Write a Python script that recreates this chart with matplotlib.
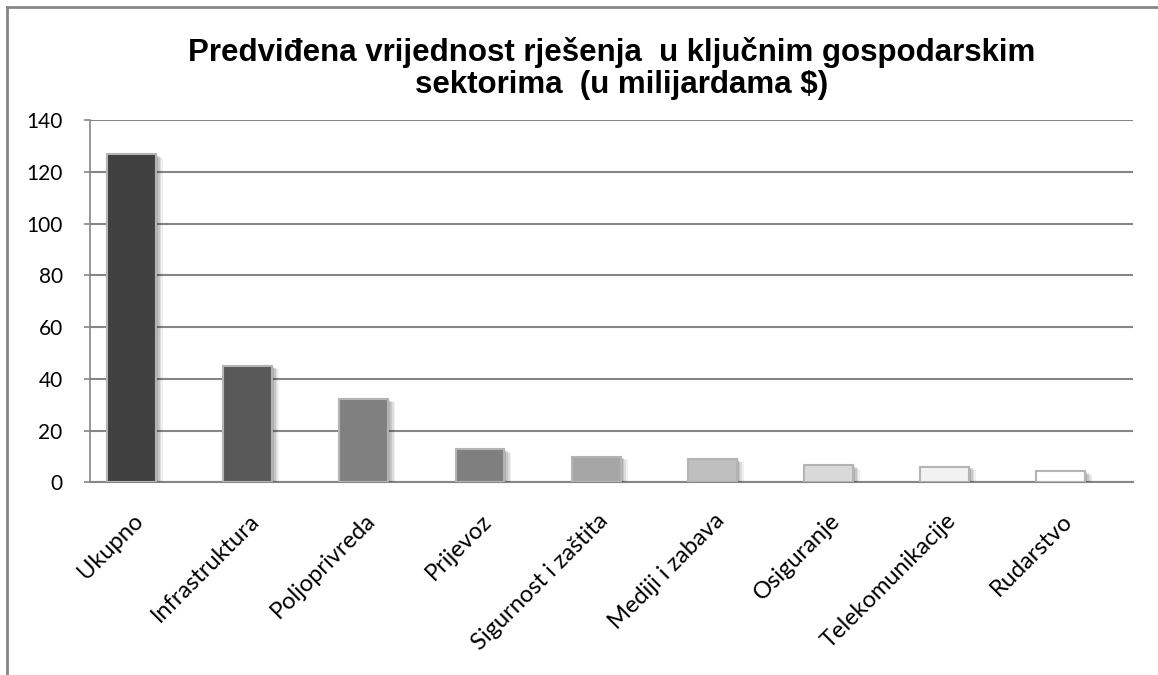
import matplotlib
matplotlib.use("Agg")
import matplotlib.pyplot as plt
import matplotlib.patheffects as pe
from matplotlib.lines import Line2D
import matplotlib.transforms as mtrans

categories = ["Ukupno", "Infrastruktura", "Poljoprivreda", "Prijevoz",
              "Sigurnost i zaštita", "Mediji i zabava", "Osiguranje",
              "Telekomunikacije", "Rudarstvo"]
values = [126.7, 44.9, 32.1, 12.7, 9.9, 8.9, 6.5, 6.0, 4.2]
bar_colors = ["#404040", "#595959", "#808080", "#7f7f7f", "#a6a6a6",
              "#bfbfbf", "#d9d9d9", "#f2f2f2", "#ffffff"]
yticks = [0, 20, 40, 60, 80, 100, 120, 140]
title_lines = ["Predviđena vrijednost rješenja  u ključnim gospodarskim",
               "sektorima  (u milijardama $)"]

W, H = 1158, 675
fig = plt.figure(figsize=(W / 100, H / 100), dpi=100)
ax = fig.add_axes([0.0773, 0.2855, 0.9015, 0.5367])

x = range(len(categories))
bars = ax.bar(x, values, width=0.42, color=bar_colors, edgecolor="#b4b4b4",
              linewidth=1.5, zorder=3)
# soft shadow: a few faint offset copies
shadow = [pe.SimplePatchShadow(offset=(o, -o * 0.45), shadow_rgbFace="#000000", alpha=a)
          for o, a in [(5, 0.06), (3.8, 0.08), (2.6, 0.1), (1.4, 0.12)]]
for b in bars:
    b.set_path_effects(shadow + [pe.Normal()])

ax.set_xlim(-0.362, 8.625)
ax.set_ylim(0, 140)
ax.set_yticks(yticks)
ax.yaxis.grid(True, color="#868686", linewidth=1.5, zorder=0)
ax.set_axisbelow(True)

for s in ["top", "right"]:
    ax.spines[s].set_visible(False)
ax.spines["left"].set_color("#868686")
ax.spines["bottom"].set_color("#868686")
ax.spines["left"].set_linewidth(1.2)
ax.spines["bottom"].set_linewidth(1.5)

ax.tick_params(axis="y", length=4.3, width=1.2, color="#868686", labelsize=15,
               pad=15)
ax.tick_params(axis="x", length=0)
for lab in ax.get_yticklabels():
    lab.set_fontfamily("Lato")

ax.set_xticks(list(x))
ax.set_xticklabels(categories, rotation=45, ha="right", va="top",
                   rotation_mode="anchor", fontsize=17, fontfamily="Lato")
offset = mtrans.ScaledTranslation(0.01, -0.23, fig.dpi_scale_trans)
for lab in ax.get_xticklabels():
    lab.set_transform(lab.get_transform() + offset)

fig.text(612 / W, 1 - 61 / H, title_lines[0], ha="center", va="baseline",
         fontsize=22.5, fontweight="bold", fontfamily="Liberation Sans")
fig.text(622 / W, 1 - 93 / H, title_lines[1], ha="center", va="baseline",
         fontsize=22.5, fontweight="bold", fontfamily="Liberation Sans")

# outer chart frame
fig.add_artist(Line2D([7 / W, 1], [1 - 7 / H, 1 - 7 / H], color="#868686", lw=2))
fig.add_artist(Line2D([7 / W, 7 / W], [0, 1 - 7 / H], color="#868686", lw=2))

fig.savefig("out.png", dpi=100)
